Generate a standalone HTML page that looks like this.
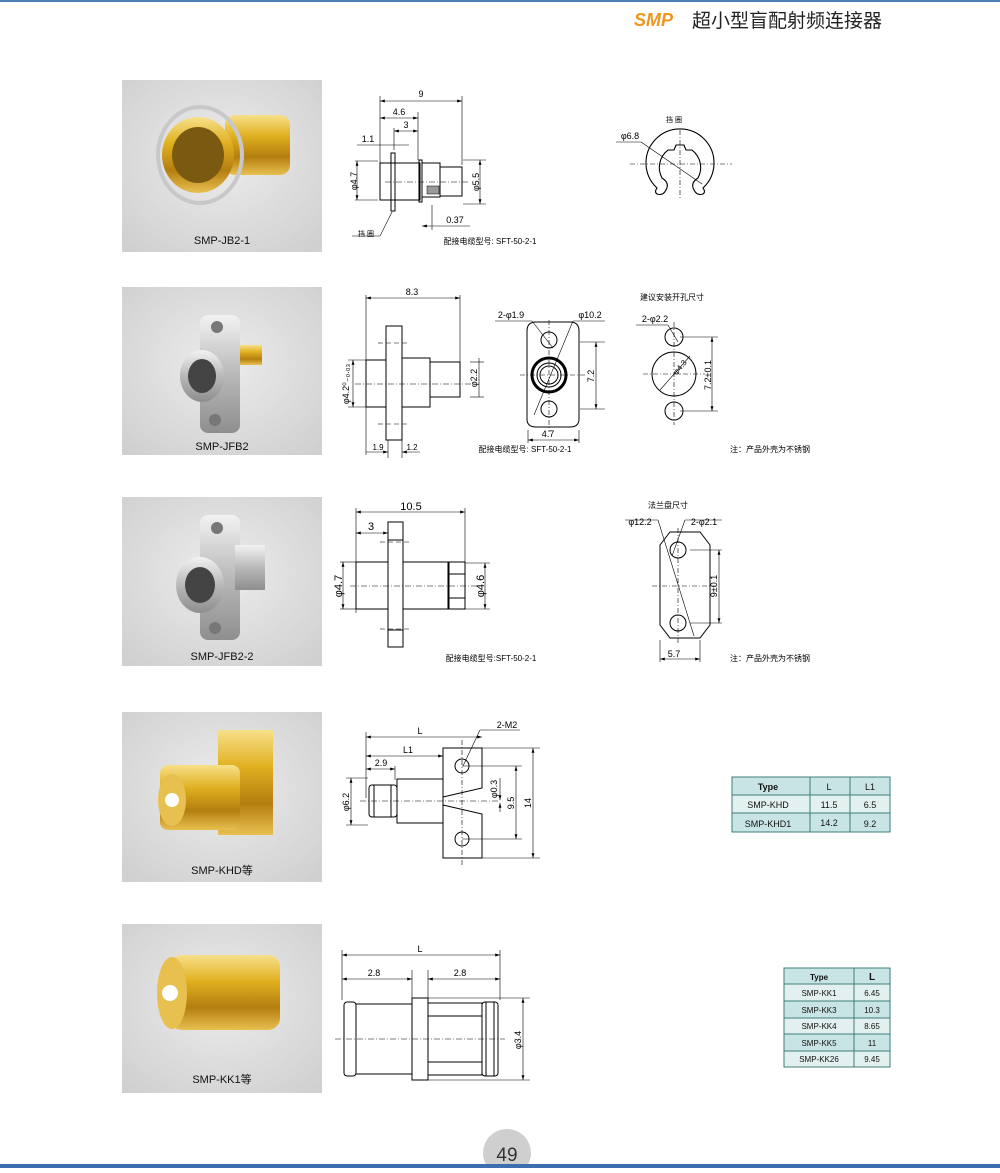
<!DOCTYPE html>
<html><head><meta charset="utf-8"><style>
html,body{margin:0;padding:0;background:#fff}
body{width:1000px;height:1168px;position:relative;overflow:hidden;font-family:"Liberation Sans","Noto Sans CJK SC",sans-serif}
svg text{font-family:"Liberation Sans","Noto Sans CJK SC",sans-serif}
</style></head><body>
<svg width="1000" height="1168" viewBox="0 0 1000 1168" xmlns="http://www.w3.org/2000/svg">
<defs>
<marker id="a" viewBox="0 0 10 6" refX="10" refY="3" markerWidth="8" markerHeight="5" orient="auto-start-reverse"><path d="M0,0L10,3L0,6z" fill="#000"/></marker>
<radialGradient id="bg" cx="50%" cy="45%" r="70%"><stop offset="0" stop-color="#ececec"/><stop offset="1" stop-color="#d0d0d0"/></radialGradient>
<linearGradient id="gold" x1="0" y1="0" x2="0" y2="1"><stop offset="0" stop-color="#f7e08a"/><stop offset=".35" stop-color="#e0b020"/><stop offset=".7" stop-color="#b47e10"/><stop offset="1" stop-color="#e8c050"/></linearGradient>
<linearGradient id="silv" x1="0" y1="0" x2="0" y2="1"><stop offset="0" stop-color="#f2f2f2"/><stop offset=".5" stop-color="#b9b9b9"/><stop offset="1" stop-color="#8e8e8e"/></linearGradient>
</defs>
<rect x="0" y="0" width="1000" height="2" fill="#4a7fb8"/>
<circle cx="507" cy="1153" r="24" fill="#cfcfcf"/>
<text x="507" y="1161" font-size="19" text-anchor="middle" fill="#333">49</text>
<rect x="0" y="1164" width="1000" height="4" fill="#3b6fae"/>
<text x="634" y="26" font-size="18" font-weight="bold" font-style="italic" fill="#f0961e">SMP</text>
<text x="692" y="27" font-size="19" fill="#222">超小型盲配射频连接器</text>

<g font-size="11" fill="#111" text-anchor="middle">
<rect x="122" y="80" width="200" height="172" fill="url(#bg)"/>
<text x="222" y="244">SMP-JB2-1</text>
<rect x="122" y="287" width="200" height="168" fill="url(#bg)"/>
<text x="222" y="450">SMP-JFB2</text>
<rect x="122" y="497" width="200" height="169" fill="url(#bg)"/>
<text x="222" y="660">SMP-JFB2-2</text>
<rect x="122" y="712" width="200" height="170" fill="url(#bg)"/>
<text x="222" y="874">SMP-KHD等</text>
<rect x="122" y="924" width="200" height="169" fill="url(#bg)"/>
<text x="222" y="1083">SMP-KK1等</text>
</g>
<rect x="225" y="115" width="65" height="60" rx="10" fill="url(#gold)"/>
<ellipse cx="200" cy="155" rx="42" ry="48" fill="none" stroke="#c8c8c8" stroke-width="4"/>
<ellipse cx="198" cy="155" rx="36" ry="38" fill="url(#gold)"/>
<ellipse cx="198" cy="155" rx="26" ry="28" fill="#7a5a10"/>
<rect x="200" y="315" width="40" height="118" rx="8" fill="url(#silv)"/>
<circle cx="217" cy="327" r="6" fill="#777"/><circle cx="215" cy="420" r="6" fill="#777"/>
<rect x="240" y="345" width="22" height="20" fill="url(#gold)"/>
<ellipse cx="202" cy="376" rx="22" ry="26" fill="url(#silv)"/><ellipse cx="202" cy="376" rx="14" ry="17" fill="#444"/>
<rect x="200" y="515" width="40" height="125" rx="8" fill="url(#silv)"/>
<circle cx="217" cy="528" r="6" fill="#777"/><circle cx="215" cy="628" r="6" fill="#777"/>
<rect x="235" y="545" width="30" height="45" fill="url(#silv)"/>
<ellipse cx="200" cy="585" rx="24" ry="28" fill="url(#silv)"/><ellipse cx="200" cy="585" rx="15" ry="18" fill="#444"/>
<rect x="218" y="730" width="55" height="105" fill="url(#gold)"/>
<rect x="160" y="765" width="80" height="65" rx="8" fill="url(#gold)"/>
<ellipse cx="172" cy="800" rx="14" ry="26" fill="#e8c050"/><circle cx="172" cy="800" r="7" fill="#fff"/>
<rect x="170" y="955" width="110" height="75" rx="12" fill="url(#gold)"/>
<ellipse cx="172" cy="993" rx="15" ry="36" fill="#e8c050"/><circle cx="170" cy="993" r="8" fill="#fff"/>

<g stroke="#000" fill="none" stroke-width="1">
<g stroke-width="0.6">
<line x1="380" y1="96" x2="380" y2="200"/><line x1="462" y1="96" x2="462" y2="165"/>
<line x1="380" y1="101" x2="462" y2="101" marker-start="url(#a)" marker-end="url(#a)"/>
<line x1="418" y1="112" x2="418" y2="160"/>
<line x1="380" y1="118" x2="418" y2="118" marker-start="url(#a)" marker-end="url(#a)"/>
<line x1="394" y1="128" x2="394" y2="150"/>
<line x1="394" y1="131" x2="418" y2="131" marker-start="url(#a)" marker-end="url(#a)"/>
<line x1="357" y1="145" x2="409" y2="145"/>
<line x1="357" y1="161" x2="357" y2="200" marker-start="url(#a)" marker-end="url(#a)"/>
<line x1="355" y1="161" x2="378" y2="161"/><line x1="355" y1="200" x2="378" y2="200"/>
<line x1="480" y1="160" x2="480" y2="204" marker-start="url(#a)" marker-end="url(#a)"/>
<line x1="463" y1="160" x2="486" y2="160"/><line x1="463" y1="204" x2="486" y2="204"/>
<line x1="422" y1="226" x2="470" y2="226" marker-start="url(#a)"/>
<line x1="432" y1="205" x2="432" y2="230"/>
<line x1="385" y1="182" x2="470" y2="182" stroke-dasharray="6,2,1,2"/>
<line x1="392" y1="212" x2="380" y2="236"/><line x1="352" y1="236" x2="380" y2="236"/>
</g>
<rect x="380" y="163" width="40" height="37"/>
<rect x="391" y="153" width="4" height="58"/>
<rect x="419" y="160" width="3" height="42"/>
<rect x="422" y="163" width="18" height="34"/>
<rect x="440" y="167" width="22" height="29"/>
<rect x="427" y="186" width="12" height="8" fill="#999" stroke-width=".5"/>
<!-- clip -->
<path d="M657,188 A34,34 0 1 1 703,188 Q706,192 703,194 Q697,196 694,190 Q690,183 698,178 A22,22 0 0 0 692,150 L686,150 L684,145 L676,145 L674,150 L668,150 A22,22 0 0 0 662,178 Q670,183 666,190 Q663,196 657,194 Q654,192 657,188 Z" stroke-width="1.1"/>
<g stroke-width="0.6"><line x1="630" y1="164" x2="732" y2="164" stroke-dasharray="5,2,1,2"/><line x1="680" y1="130" x2="680" y2="200" stroke-dasharray="5,2,1,2"/>
<line x1="616" y1="142" x2="641" y2="142"/><line x1="641" y1="142" x2="702" y2="184"/></g>

<g stroke-width="0.6">
<line x1="366" y1="295" x2="366" y2="455"/><line x1="460" y1="295" x2="460" y2="370"/>
<line x1="366" y1="298" x2="460" y2="298" marker-start="url(#a)" marker-end="url(#a)"/>
<line x1="353" y1="360" x2="353" y2="407" marker-start="url(#a)" marker-end="url(#a)"/>
<line x1="348" y1="360" x2="366" y2="360"/><line x1="348" y1="407" x2="366" y2="407"/>
<line x1="479" y1="358" x2="479" y2="397"/><line x1="470" y1="397" x2="484" y2="397"/><line x1="470" y1="362" x2="484" y2="362"/>
<line x1="355" y1="384" x2="475" y2="384" stroke-dasharray="6,2,1,2"/>
<line x1="366" y1="452" x2="388" y2="452" marker-end="url(#a)"/><line x1="402" y1="452" x2="420" y2="452" marker-start="url(#a)"/>
<line x1="388" y1="440" x2="388" y2="458"/><line x1="402" y1="440" x2="402" y2="458"/>
<line x1="378" y1="343" x2="410" y2="343" stroke-dasharray="5,3"/><line x1="378" y1="424" x2="410" y2="424" stroke-dasharray="5,3"/>
</g>
<rect x="386" y="326" width="16" height="114"/>
<rect x="366" y="360" width="20" height="47"/>
<rect x="402" y="358" width="28" height="49"/>
<rect x="430" y="362" width="30" height="35"/>
<path d="M527,331 Q527,322 536,322 L570,322 Q579,322 579,331 L579,419 Q579,427 570,427 L536,427 Q527,427 527,419 Z"/>
<circle cx="549" cy="340" r="8"/><circle cx="549" cy="409" r="8"/>
<circle cx="549" cy="375" r="17" stroke-width="3"/><circle cx="549" cy="375" r="12"/><circle cx="549" cy="375" r="9"/>
<g stroke-width="0.6">
<line x1="549" y1="320" x2="549" y2="432" stroke-dasharray="5,2,1,2"/><line x1="520" y1="375" x2="585" y2="375" stroke-dasharray="5,2,1,2"/>
<line x1="495" y1="321" x2="532" y2="321"/><line x1="532" y1="321" x2="553" y2="348"/>
<line x1="573" y1="321" x2="605" y2="321"/><line x1="573" y1="321" x2="534" y2="415"/>
<line x1="580" y1="342" x2="605" y2="342"/><line x1="580" y1="409" x2="605" y2="409"/>
<line x1="596" y1="342" x2="596" y2="409" marker-start="url(#a)" marker-end="url(#a)"/>
<line x1="528" y1="430" x2="528" y2="443"/><line x1="579" y1="430" x2="579" y2="443"/>
<line x1="528" y1="440" x2="579" y2="440" marker-start="url(#a)" marker-end="url(#a)"/>
</g>
<circle cx="674" cy="337" r="9"/><circle cx="674" cy="374" r="22"/><circle cx="674" cy="411" r="9"/>
<g stroke-width="0.6">
<line x1="643" y1="374" x2="705" y2="374" stroke-dasharray="5,2,1,2"/><line x1="674" y1="322" x2="674" y2="425" stroke-dasharray="5,2,1,2"/>
<line x1="636" y1="325" x2="668" y2="325"/><line x1="668" y1="325" x2="678" y2="342"/>
<line x1="690" y1="356" x2="660" y2="390"/>
<line x1="680" y1="337" x2="718" y2="337"/><line x1="680" y1="411" x2="718" y2="411"/>
<line x1="712" y1="337" x2="712" y2="411" marker-start="url(#a)" marker-end="url(#a)"/>
</g>

<g stroke-width="0.6">
<line x1="356" y1="508" x2="356" y2="613"/><line x1="465" y1="508" x2="465" y2="565"/>
<line x1="356" y1="512" x2="465" y2="512" marker-start="url(#a)" marker-end="url(#a)"/>
<line x1="356" y1="533" x2="388" y2="533" marker-start="url(#a)" marker-end="url(#a)"/>
<line x1="343" y1="562" x2="343" y2="609" marker-start="url(#a)" marker-end="url(#a)"/>
<line x1="340" y1="562" x2="356" y2="562"/><line x1="340" y1="609" x2="356" y2="609"/>
<line x1="485" y1="563" x2="485" y2="609" marker-start="url(#a)" marker-end="url(#a)"/>
<line x1="465" y1="563" x2="490" y2="563"/><line x1="465" y1="609" x2="490" y2="609"/>
<line x1="350" y1="586" x2="480" y2="586" stroke-dasharray="6,2,1,2"/>
<line x1="380" y1="542" x2="410" y2="542" stroke-dasharray="5,3"/><line x1="380" y1="629" x2="410" y2="629" stroke-dasharray="5,3"/>
</g>
<rect x="388" y="522" width="15" height="125"/>
<line x1="388" y1="540" x2="403" y2="540"/><line x1="388" y1="630" x2="403" y2="630"/>
<rect x="356" y="562" width="32" height="47"/>
<rect x="403" y="562" width="45" height="47"/>
<rect x="449" y="562" width="16" height="47"/>
<line x1="449" y1="574" x2="465" y2="574"/><line x1="449" y1="598" x2="465" y2="598"/>
<path d="M670,532 L700,532 L710,545 L710,625 L700,638 L670,638 L660,625 L660,545 Z"/>
<circle cx="678" cy="550" r="8"/><circle cx="678" cy="623" r="8"/>
<g stroke-width="0.6">
<line x1="678" y1="528" x2="678" y2="645" stroke-dasharray="5,2,1,2"/><line x1="652" y1="586" x2="716" y2="586" stroke-dasharray="5,2,1,2"/>
<line x1="625" y1="520" x2="658" y2="520"/><line x1="658" y1="520" x2="694" y2="636"/>
<line x1="685" y1="520" x2="722" y2="520"/><line x1="685" y1="520" x2="672" y2="556"/>
<line x1="690" y1="550" x2="722" y2="550"/><line x1="690" y1="623" x2="722" y2="623"/>
<line x1="719" y1="550" x2="719" y2="623" marker-start="url(#a)" marker-end="url(#a)"/>
<line x1="660" y1="640" x2="660" y2="662"/><line x1="700" y1="640" x2="700" y2="662"/>
<line x1="660" y1="659" x2="700" y2="659" marker-start="url(#a)" marker-end="url(#a)"/>
</g>

<g stroke-width="0.6">
<line x1="366" y1="732" x2="366" y2="798"/>
<line x1="366" y1="737" x2="482" y2="737" marker-start="url(#a)" marker-end="url(#a)"/>
<line x1="366" y1="756" x2="443" y2="756" marker-start="url(#a)" marker-end="url(#a)"/>
<line x1="366" y1="769" x2="395" y2="769" marker-start="url(#a)" marker-end="url(#a)"/>
<line x1="395" y1="766" x2="395" y2="780"/>
<line x1="351" y1="778" x2="351" y2="825" marker-start="url(#a)" marker-end="url(#a)"/>
<line x1="346" y1="778" x2="368" y2="778"/><line x1="346" y1="825" x2="368" y2="825"/>
<line x1="360" y1="801" x2="500" y2="801" stroke-dasharray="6,2,1,2"/>
<line x1="462" y1="740" x2="462" y2="865" stroke-dasharray="5,2,1,2"/>
<line x1="463" y1="766" x2="480" y2="730"/><line x1="480" y1="730" x2="520" y2="730"/>
<line x1="482" y1="748" x2="540" y2="748"/><line x1="482" y1="858" x2="540" y2="858"/>
<line x1="533" y1="748" x2="533" y2="858" marker-start="url(#a)" marker-end="url(#a)"/>
<line x1="462" y1="766" x2="522" y2="766"/><line x1="462" y1="839" x2="522" y2="839"/>
<line x1="516" y1="766" x2="516" y2="839" marker-start="url(#a)" marker-end="url(#a)"/>
<line x1="500" y1="778" x2="500" y2="800" marker-end="url(#a)"/><line x1="500" y1="812" x2="500" y2="803" marker-end="url(#a)"/>
</g>
<rect x="397" y="779" width="46" height="44"/>
<path d="M443,748 L482,748 L482,788 L443,797 Z M443,805 L482,814 L482,858 L443,858 Z"/>
<line x1="443" y1="748" x2="443" y2="858"/>
<rect x="369" y="785" width="28" height="32" rx="3"/>
<line x1="374" y1="785" x2="374" y2="817"/><line x1="391" y1="785" x2="391" y2="817"/>
<circle cx="462" cy="766" r="7"/><circle cx="462" cy="839" r="7"/>

<g stroke-width="0.6">
<line x1="342" y1="950" x2="342" y2="1000"/><line x1="500" y1="950" x2="500" y2="1000"/>
<line x1="342" y1="955" x2="500" y2="955" marker-start="url(#a)" marker-end="url(#a)"/>
<line x1="342" y1="979" x2="412" y2="979" marker-start="url(#a)" marker-end="url(#a)"/>
<line x1="428" y1="979" x2="500" y2="979" marker-start="url(#a)" marker-end="url(#a)"/>
<line x1="412" y1="970" x2="412" y2="1000"/><line x1="428" y1="970" x2="428" y2="1000"/>
<line x1="428" y1="998" x2="530" y2="998"/><line x1="428" y1="1080" x2="530" y2="1080"/>
<line x1="523" y1="998" x2="523" y2="1080" marker-start="url(#a)" marker-end="url(#a)"/>
<line x1="335" y1="1039" x2="505" y2="1039" stroke-dasharray="6,2,1,2"/>
</g>
<rect x="344" y="1002" width="12" height="74" rx="3"/>
<rect x="356" y="1004" width="56" height="70"/>
<rect x="412" y="998" width="16" height="82"/>
<rect x="428" y="1003" width="54" height="72"/>
<line x1="428" y1="1016" x2="482" y2="1016"/><line x1="428" y1="1062" x2="482" y2="1062"/>
<rect x="482" y="1002" width="16" height="74" rx="3"/>
<line x1="486" y1="1002" x2="486" y2="1076"/><line x1="494" y1="1002" x2="494" y2="1076"/>
</g>

<g font-size="9" fill="#000" text-anchor="middle">
<text x="421" y="97">9</text><text x="399" y="115">4.6</text><text x="406" y="128">3</text>
<text x="368" y="142">1.1</text><text x="455" y="223">0.37</text>
<text transform="translate(357,181) rotate(-90)">φ4.7</text>
<text transform="translate(479,182) rotate(-90)">φ5.5</text>
<text x="366" y="236" font-size="7">挡 圈</text>
<text x="490" y="244" font-size="8">配接电缆型号: SFT-50-2-1</text>
<text x="674" y="122" font-size="7">挡 圈</text><text x="630" y="139">φ6.8</text>
<text x="412" y="295">8.3</text><text x="378" y="450" font-size="8">1.9</text><text x="412" y="450" font-size="8">1.2</text>
<text transform="translate(349,384) rotate(-90)">φ4.2⁰₋₀.₀₃</text>
<text transform="translate(477,378) rotate(-90)">φ2.2</text>
<text x="511" y="318">2-φ1.9</text><text x="590" y="318">φ10.2</text>
<text transform="translate(594,376) rotate(-90)">7.2</text>
<text x="548" y="437">4.7</text>
<text x="525" y="452" font-size="8">配接电缆型号: SFT-50-2-1</text>
<text x="672" y="300" font-size="8">建议安装开孔尺寸</text>
<text x="655" y="322">2-φ2.2</text>
<text transform="translate(682,369) rotate(-50)" font-size="8">φ4.3</text>
<text transform="translate(711,375) rotate(-90)">7.2±0.1</text>
<text x="770" y="452" font-size="8">注：产品外壳为不锈钢</text>
<text x="411" y="510" font-size="11">10.5</text><text x="371" y="530" font-size="11">3</text>
<text transform="translate(342,586) rotate(-90)" font-size="11">φ4.7</text>
<text transform="translate(484,586) rotate(-90)" font-size="11">φ4.6</text>
<text x="491" y="661" font-size="8">配接电缆型号:SFT-50-2-1</text>
<text x="668" y="508" font-size="8">法兰盘尺寸</text>
<text x="640" y="525">φ12.2</text><text x="704" y="525">2-φ2.1</text>
<text transform="translate(717,586) rotate(-90)">9±0.1</text>
<text x="674" y="657">5.7</text>
<text x="770" y="661" font-size="8">注：产品外壳为不锈钢</text>
<text x="420" y="734">L</text><text x="408" y="753">L1</text><text x="381" y="766">2.9</text>
<text x="507" y="728">2-M2</text>
<text transform="translate(349,802) rotate(-90)">φ6.2</text>
<text transform="translate(497,789) rotate(-90)">φ0.3</text>
<text transform="translate(514,803) rotate(-90)">9.5</text>
<text transform="translate(531,803) rotate(-90)">14</text>
<text x="420" y="952">L</text><text x="374" y="976">2.8</text><text x="460" y="976">2.8</text>
<text transform="translate(521,1040) rotate(-90)">φ3.4</text>
</g>

<g font-size="9" fill="#111" text-anchor="middle" stroke="#3d7f78">
<rect x="732" y="777" width="158" height="18" fill="#c9e4e4"/>
<rect x="732" y="795" width="158" height="18" fill="#e2f0ef"/>
<rect x="732" y="813" width="158" height="19" fill="#c9e4e4"/>
<line x1="810" y1="777" x2="810" y2="832"/><line x1="850" y1="777" x2="850" y2="832"/>
<rect x="784" y="968" width="106" height="16" fill="#c9e4e4"/>
<rect x="784" y="984" width="106" height="17" fill="#e2f0ef"/>
<rect x="784" y="1001" width="106" height="17" fill="#c9e4e4"/>
<rect x="784" y="1018" width="106" height="16" fill="#e2f0ef"/>
<rect x="784" y="1034" width="106" height="17" fill="#c9e4e4"/>
<rect x="784" y="1051" width="106" height="16" fill="#e2f0ef"/>
<line x1="854" y1="968" x2="854" y2="1067"/>
</g>
<g font-size="9" fill="#111" text-anchor="middle">
<text x="768" y="790" font-weight="bold">Type</text><text x="829" y="790">L</text><text x="870" y="790">L1</text>
<text x="768" y="808">SMP-KHD</text><text x="829" y="808">11.5</text><text x="870" y="808">6.5</text>
<text x="768" y="827">SMP-KHD1</text><text x="829" y="826">14.2</text><text x="870" y="827">9.2</text>
<g font-size="8"><text x="819" y="980" font-weight="bold">Type</text><text x="872" y="980" font-size="10" font-weight="bold">L</text>
<text x="819" y="996">SMP-KK1</text><text x="872" y="996">6.45</text>
<text x="819" y="1013">SMP-KK3</text><text x="872" y="1013">10.3</text>
<text x="819" y="1029">SMP-KK4</text><text x="872" y="1029">8.65</text>
<text x="819" y="1046">SMP-KK5</text><text x="872" y="1046">11</text>
<text x="819" y="1062">SMP-KK26</text><text x="872" y="1062">9.45</text></g>
</g>
</svg>
</body></html>
